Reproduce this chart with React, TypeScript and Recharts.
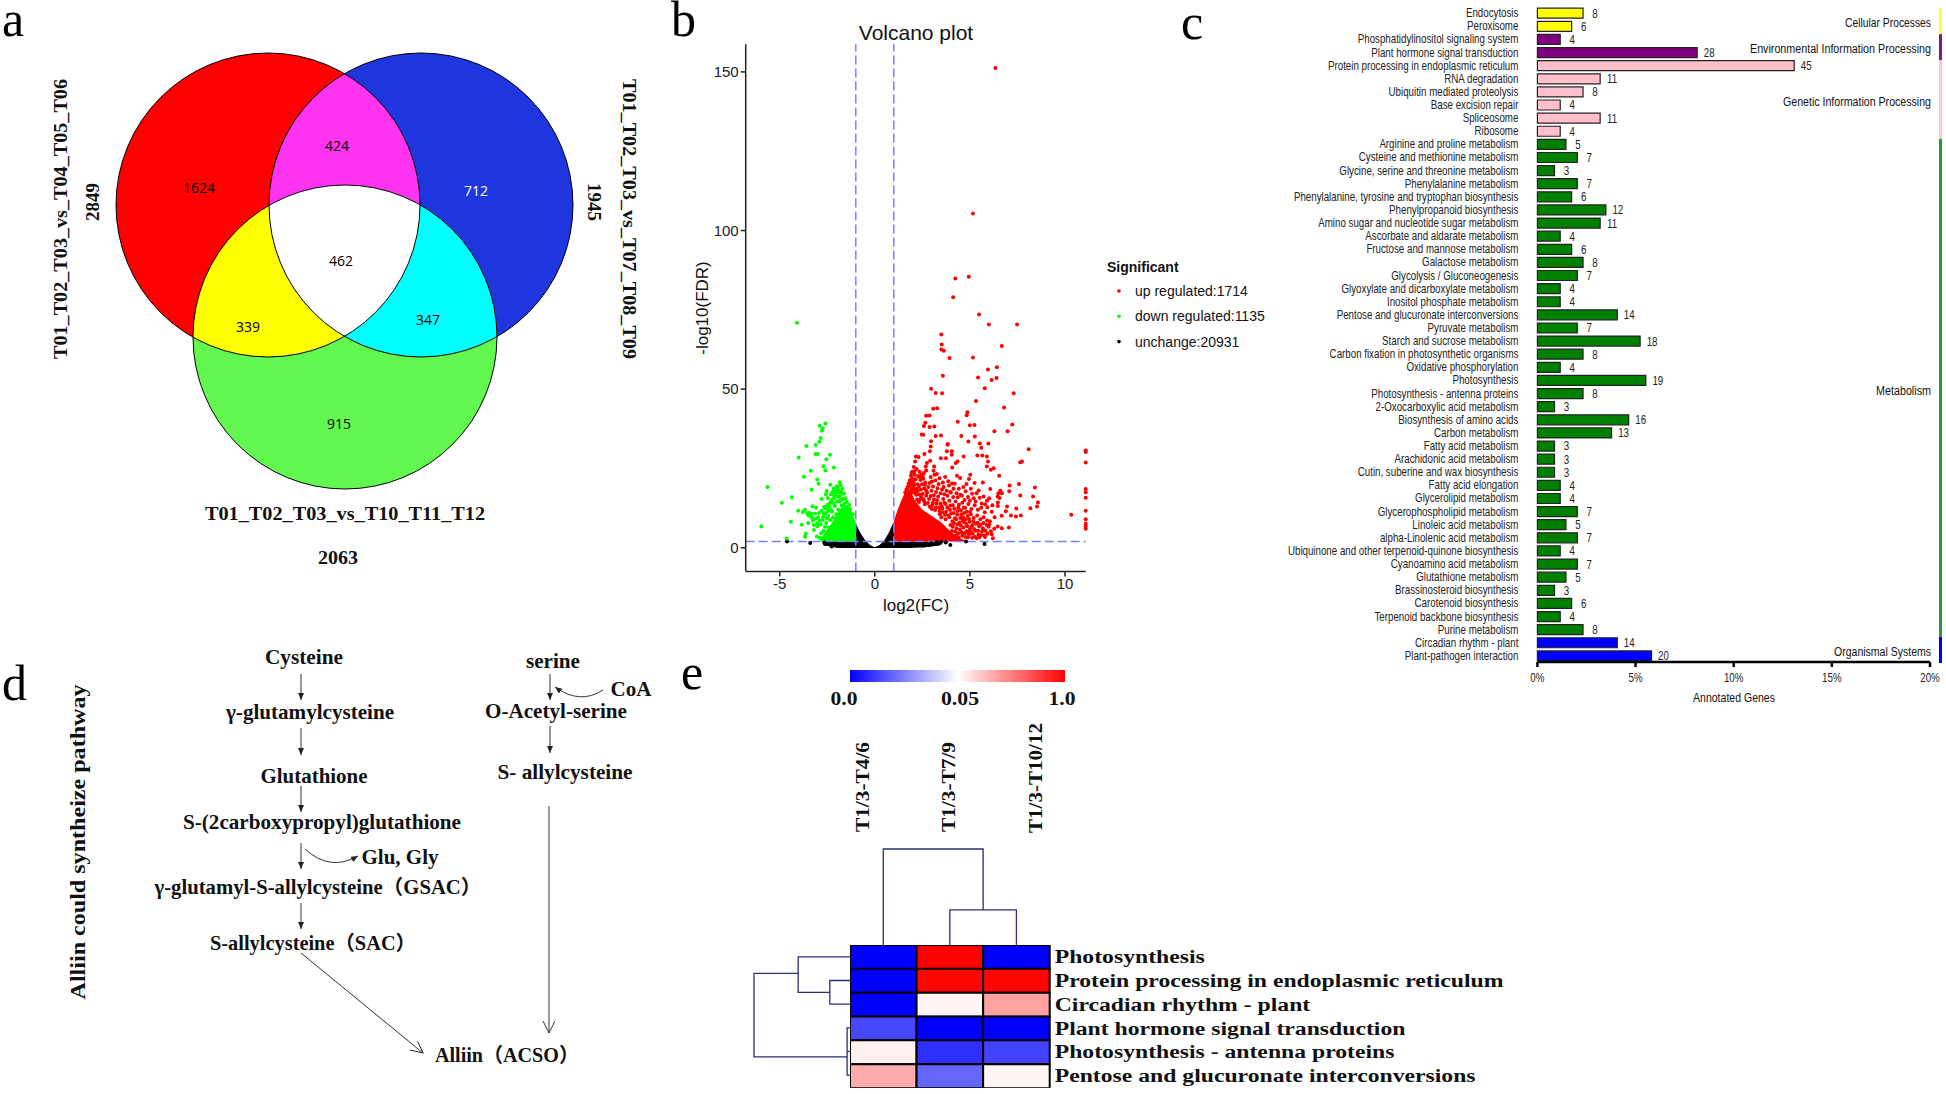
import React from 'react';
import {
  BarChart,
  Bar,
  Cell,
  ComposedChart,
  Area,
  Line,
  LineChart,
  LabelList,
  ReferenceLine,
  Scatter,
  ScatterChart,
  XAxis,
  YAxis,
} from 'recharts';

const SERIF = '"Liberation Serif", "Noto Sans CJK SC", serif';
const SANS = '"Liberation Sans", sans-serif';

// panel a
const vennSets = [
  { id: 'red', x: 268, y: 205, fill: '#ff0000' },
  { id: 'blue', x: 421, y: 205, fill: '#1f35de' },
  { id: 'green', x: 345, y: 337, fill: '#62f84f' },
];
const vennOverlaps = [
  { x: 421, y: 205, clips: ['red'], fill: '#ff33f0' },
  { x: 345, y: 337, clips: ['red'], fill: '#ffff00' },
  { x: 345, y: 337, clips: ['blue'], fill: '#00ffff' },
  { x: 345, y: 337, clips: ['red', 'blue'], fill: '#ffffff' },
];
const vennCounts = [
  { x: 199, y: 187, count: 1624 },
  { x: 337, y: 145, count: 424 },
  { x: 476, y: 190, count: 712, light: true },
  { x: 341, y: 260, count: 462 },
  { x: 248, y: 326, count: 339 },
  { x: 428, y: 319, count: 347 },
  { x: 339, y: 423, count: 915 },
];

// panel b
const volcanoUp = [
  [6.34, 151.2], [5.16, 105.4], [4.23, 84.9], [4.94, 85.4], [4.12, 79], [5.48, 73.5], [6, 70.4], [7.48, 70.4],
  [3.5, 67.2], [3.52, 64.1], [3.5, 62.5], [3.63, 62.1], [6.68, 63.6], [3.93, 59.8], [5.16, 60], [5.95, 56.2],
  [6.42, 56.9], [3.58, 54.2], [5.43, 53.7], [6.14, 52.9], [6.4, 53.5], [5.78, 50.3], [2.96, 50.1], [3.2, 48.8],
  [3.54, 48.7], [7.3, 48.7], [5.32, 46.3], [6.8, 44.2], [3.07, 43.8], [3.28, 44], [4.87, 42.7], [4.83, 41.8],
  [2.7, 41.6], [2.88, 41.7], [4.36, 39.7], [2.66, 39.4], [2.58, 38.4], [5, 38.6], [5.24, 38.7], [7.23, 38.9],
  [2.88, 38.1], [3.13, 38.2], [6.29, 36.7], [6.98, 36.7], [2.47, 35.7], [2.55, 35.6], [3.2, 35.2], [3.48, 35.4],
  [4.55, 35.2], [5.26, 35.1], [2.96, 33.6], [4.92, 33.5], [5.52, 32.9], [5.97, 32.9], [3.82, 32.5], [2.94, 31.9],
  [5.6, 31.5], [8.09, 31.1], [11.09, 30.7], [11.09, 30.2], [11.09, 26.9], [11.09, 18.5], [11.09, 17.5], [11.09, 15.8],
  [11.09, 11.7], [11.09, 9], [11.09, 7.6], [11.09, 6.8], [11.09, 6], [10.33, 10.4], [7.74, 27.2], [7.65, 27],
  [2.9, 30.4], [3.79, 30.4], [4.05, 30.4], [4.05, 29.3], [3.84, 32.7], [2.16, 28.8], [2.3, 28.6], [2.61, 29.6],
  [2.12, 27.2], [2.74, 26.7], [2.91, 27.4], [2.68, 25.6], [2.7, 24.4], [3.12, 25.6], [3.09, 24.3], [3.26, 23.3],
  [3.14, 23], [3.47, 28.2], [3.74, 28.2], [4.35, 27.2], [4.26, 26.7], [4.07, 25.3], [4.67, 28.8], [4.32, 22.7],
  [4.49, 22], [5.02, 23], [4.95, 21.7], [5.25, 20.4], [5.68, 20.6], [5.39, 29.1], [5.65, 29.1], [5.89, 28.8],
  [5.95, 27.2], [5.89, 25.6], [6.1, 24.6], [6.25, 25.1], [6.54, 22.7], [6.07, 18.5], [7.09, 19.6], [7.58, 20.1],
  [8.42, 19], [6.6, 18], [6.5, 17.2], [6.68, 17.2], [6.46, 16.2], [6.56, 15.7], [6.47, 14.3], [6.47, 13.2],
  [7.07, 17.8], [7.65, 16.5], [6.95, 13], [6.89, 11.5], [6.67, 10.1], [7.16, 10.2], [7.42, 9.9], [7.68, 10.2],
  [7.44, 12.4], [8.18, 12.5], [8.53, 13], [8.58, 14.3], [8.32, 16.2], [7.05, 6.4], [6.68, 6.2], [6.46, 6.7],
  [6.1, 5.2], [6.21, 3], [5.6, 4], [5.68, 6.2], [2.05, 25.5], [2.2, 24.8], [2.35, 24], [1.98, 24], [2.1, 23],
  [2.28, 22.6], [2.45, 23], [1.95, 22], [2.15, 21.6], [2.4, 21.4], [2.55, 21.8], [1.88, 20.6], [2.05, 20.4],
  [2.25, 20], [2.48, 20], [2.65, 20.6], [1.82, 19.2], [2.02, 18.8], [2.2, 18.6], [2.42, 18.4], [2.6, 18.8],
  [2.82, 19.2], [1.75, 17.8], [1.95, 17.4], [2.12, 17.2], [2.34, 16.8], [2.52, 17], [2.75, 17.4], [2.98, 18],
  [3.1, 16.6], [3.3, 18.8], [3.46, 17.2], [3.62, 19.2], [3.78, 18], [3.9, 19.6], [3.82, 16.4], [4, 17.4],
  [4.12, 16], [4.3, 17.2], [4.42, 18.6], [4.58, 16.4], [4.78, 17.8], [4.9, 16], [5.05, 18.6], [5.2, 15.6],
  [5.35, 17.2], [5.52, 15.8], [5.72, 16.2], [5.9, 14.8], [2.4, 15.4], [2.6, 14.6], [2.85, 15.4], [3.05, 14.2],
  [3.28, 15], [3.45, 14], [3.6, 15.4], [3.72, 13.8], [3.92, 14.8], [4.1, 13.4], [4.25, 14.6], [4.42, 13.6],
  [4.6, 14.2], [4.75, 12.6], [4.92, 13.8], [5.08, 12.2], [5.25, 13.4], [5.42, 12], [5.6, 12.6], [5.78, 11.2],
  [5.92, 12.8], [6.15, 11.4], [6.3, 9.6], [3, 12.2], [3.2, 12.6], [3.4, 11.6], [3.55, 12.4], [3.75, 11.4],
  [3.95, 12], [4.15, 11], [4.35, 11.6], [4.55, 10.6], [4.7, 11], [4.88, 10], [5.05, 10.6], [5.2, 9.4],
  [5.38, 10.2], [5.55, 9], [5.72, 9.6], [5.9, 8.6], [6.05, 8.4], [3.5, 9.6], [3.72, 9], [3.92, 9.6], [4.08, 8.4],
  [4.28, 9], [4.45, 8], [4.62, 8.6], [4.8, 7.6], [4.98, 8.2], [5.14, 7.2], [5.32, 7.6], [5.48, 6.8], [5.82, 5.4],
  [5.98, 6.6], [6.28, 6], [4.1, 6.6], [4.3, 6.2], [4.48, 5.8], [4.66, 6.4], [4.82, 5.2], [5, 5.8], [5.15, 4.4],
  [5.3, 5.4], [5.45, 4.2], [4.38, 4.6], [4.6, 3.8], [4.78, 3.4], [4.95, 4.2], [5.12, 3.2], [5.35, 3], [5.8, 3.4],
  [2.22, 15.2], [2.32, 14.4], [2.44, 16.1], [2.56, 15.3], [2.63, 13.7], [2.71, 16.4], [2.79, 14.1], [2.88, 12.9],
  [2.94, 16.3], [3.02, 13.4], [3.11, 15.2], [3.17, 11.9], [3.24, 13.9], [3.33, 16.2], [3.38, 12.7], [3.42, 10.6],
  [3.51, 13.1], [3.58, 11.2], [3.66, 14.2], [3.69, 10.4], [3.81, 12.7], [3.87, 10.2], [3.97, 13.3], [4.02, 10.9],
  [4.18, 12.3], [4.21, 9.3], [4.33, 10.4], [4.39, 12.7], [4.5, 9.4], [4.52, 11.8], [4.64, 9.6], [4.68, 12.6],
  [4.76, 8.9], [4.84, 11.4], [4.95, 9.1], [5.01, 11.3], [3.98, 7.2], [4.05, 5.3], [4.16, 7.7], [4.22, 5.1],
  [4.26, 3.8], [4.34, 7.4], [4.41, 3.3], [4.52, 7], [4.56, 4.9], [4.68, 8.1], [4.72, 4.6], [4.86, 6.8],
  [4.9, 3.3], [4.92, 5], [5.06, 6.6], [5.08, 4.9], [5.18, 8.4], [5.22, 5.9], [5.27, 3.5], [5.41, 7.9],
  [5.43, 5.4], [5.5, 3.3], [5.56, 7.3], [5.64, 5.2], [5.72, 7.8], [5.76, 3.9], [5.88, 7.2], [5.92, 4.4],
  [6.02, 7.4], [6.15, 4.3], [1.6, 17.4], [1.66, 18.3], [1.72, 19.2], [1.78, 20.3], [1.84, 21.3], [1.9, 22.8],
  [1.94, 23.7], [1.88, 19.4], [1.96, 20.1], [2.02, 21.4], [2.08, 24.1], [1.92, 18.2], [2.06, 19.7], [2.12, 18],
  [2.18, 16.7], [2.26, 17.9], [2.32, 19.3], [2.38, 22.2], [2.52, 22.7], [2.58, 23.6], [2.64, 19.9], [2.7, 18.1],
  [2.88, 20.4], [2.94, 22.3], [3, 20.9], [3.06, 19.3], [3.18, 21.2], [3.22, 17.6], [3.36, 20.1], [3.4, 21.9],
  [3.54, 18.4], [3.58, 20.6], [3.66, 16.9], [3.7, 22.3], [3.86, 21], [3.96, 17.6], [4.06, 20.3], [4.14, 18.6],
  [4.2, 20.2], [4.36, 15.9], [4.5, 16.7], [4.66, 19.2], [4.72, 15.1], [4.82, 20.1], [5, 14.8], [5.12, 17],
  [5.3, 14.6], [5.46, 18.1], [5.62, 14], [5.8, 13.7], [6.02, 15.6], [6.18, 13.4],
];
const volcanoDown = [
  [-4.1, 70.9], [-2.6, 39.2], [-2.9, 38.5], [-2.75, 37.7], [-2.79, 36.9], [-2.85, 34.6], [-2.92, 33.4], [-3.11, 32.4],
  [-3.6, 32.1], [-3.11, 29.6], [-3, 29.6], [-2.36, 29.3], [-2.55, 27.9], [-4, 28.5], [-2.7, 25.7], [-2.6, 24.4],
  [-2.15, 25.3], [-3.37, 24.3], [-3.73, 22.4], [-3.03, 21.5], [-2.96, 20.2], [-5.64, 19.2], [-2.34, 19.9], [-1.85, 20.7],
  [-3.33, 18.3], [-2.53, 17.9], [-4.36, 15.9], [-4.89, 14.2], [-2.57, 16.9], [-2.16, 18.7], [-1.95, 19.1], [-1.8, 19.7],
  [-2.05, 17.4], [-2.31, 16.9], [-2.48, 15.7], [-2.8, 15.4], [-3.09, 12.6], [-3.28, 13.1], [-3.34, 10.7], [-4.03, 11.7],
  [-3.78, 11.3], [-3.67, 12], [-3.52, 10.4], [-3.41, 10.1], [-4.42, 8.2], [-3.84, 7.3], [-5.97, 6.7], [-4.64, 2.9],
  [-3.67, 3.5], [-3.63, 4.5], [-3.55, 10.9], [-3.45, 11], [-3.25, 8.6], [-3.1, 9.2], [-2.98, 9.6], [-3.02, 6.8],
  [-2.85, 7.4], [-2.75, 8.8], [-2.68, 10.8], [-2.6, 12.4], [-2.45, 11.6], [-2.4, 13.4], [-2.3, 14.6], [-2.15, 15.6],
  [-2, 16.2], [-1.9, 17.4], [-1.72, 17], [-1.65, 15.4], [-1.85, 14.6], [-2.1, 13.2], [-2.25, 11.4], [-2.52, 9.2],
  [-2.62, 6.6], [-2.7, 5.4], [-2.82, 4.6], [-2.9, 3.2], [-2.75, 2.8], [-3.05, 3.6], [-2.55, 7.8], [-2.35, 8.8],
  [-2.2, 9.6], [-2.02, 10.6], [-1.92, 12], [-1.75, 13.4], [-1.6, 13.8], [-1.48, 14.4], [-1.35, 13.6], [-2.12, 7.8],
  [-2.42, 6.4], [-3.5, 7.8], [-3.2, 5.6], [-1.6, 12.4], [-1.3, 12.2], [-1.15, 10.6],
  [-1.55, 15.6], [-1.62, 17.1], [-1.7, 18.6], [-1.78, 17.7], [-1.85, 16.2], [-1.92, 18.2], [-2, 19.4], [-2.08, 18.1],
  [-2.14, 16.4], [-2.22, 17.6], [-2.26, 15.1], [-2.35, 14.2], [-2.42, 12.4], [-2.5, 13.5], [-2.58, 11], [-2.66, 12.9],
  [-2.72, 9.8], [-2.8, 11.7], [-2.88, 8.6], [-2.94, 11], [-3.02, 7.7], [-3.14, 10.8], [-3.2, 7.2], [-3.3, 9.4],
  [-2.45, 10], [-2.3, 12], [-2.15, 14], [-2, 14.6], [-1.85, 15], [-1.72, 15.2],
];
const volcanoFlat = [
  [-4.62, 2], [-3.4, 1.5], [-2.66, 1.7], [-2.53, 1.2], [-2.27, 0.4], [-2.62, 1.2], [-1.95, 0.6], [3.73, 1.7],
  [3.97, 0.9], [4.8, 2], [5.77, 1.2], [2.98, 1.4], [2.85, 0.9], [3.25, 1.8], [3.3, 1.2], [2.6, 0.7], [3.5, 1.9],
];
const massX = [-2.9, -2.6, -2.3, -2, -1.8, -1.6, -1.4, -1.2, -1.01, -0.99, -0.75, -0.5, -0.25, 0, 0.25, 0.5, 0.75, 0.99, 1.01, 1.2, 1.4, 1.7, 1.95, 2.1, 2.5, 3, 3.5, 4, 4.5, 4.8];
const massFlatTop = [null, 1.8, 2, 2, 2, 2, 2, 2, 2, 7.5, 4.6, 2.3, 0.9, 0.2, 0.9, 2.3, 4.9, 8.2, 2, 2, 2, 2, 2, 2, 2, 2, 2, null, null, null];
const massFlatLow = [null, 0.8, 0.3, 0, -0.1, -0.1, -0.1, -0.1, -0.1, -0.1, -0.1, -0.1, -0.1, -0.1, -0.1, -0.1, -0.1, -0.1, -0.1, -0.1, -0.1, -0.1, -0.1, 0, 0.1, 0.4, 0.9, null, null, null];
const massDownTop = [2.5, 5, 7.5, 10.5, 12.5, 13.5, 13.5, 11, 8, null, null, null, null, null, null, null, null, null, null, null, null, null, null, null, null, null, null, null, null, null];
const massUpTop = [null, null, null, null, null, null, null, null, null, null, null, null, null, null, null, null, null, null, 8.5, 12, 15, 19, 17, 15, 12, 10, 8, 5, 3, 2.2];
const volcanoTicksX = [-5, 0, 5, 10];
const volcanoTicksY = [0, 50, 100, 150];
const volcanoLegend = ['up regulated:1714', 'down regulated:1135', 'unchange:20931'];

// panel c
const pathways = [
  'Endocytosis', 'Peroxisome', 'Phosphatidylinositol signaling system', 'Plant hormone signal transduction',
  'Protein processing in endoplasmic reticulum', 'RNA degradation', 'Ubiquitin mediated proteolysis', 'Base excision repair',
  'Spliceosome', 'Ribosome', 'Arginine and proline metabolism', 'Cysteine and methionine metabolism',
  'Glycine, serine and threonine metabolism', 'Phenylalanine metabolism', 'Phenylalanine, tyrosine and tryptophan biosynthesis',
  'Phenylpropanoid biosynthesis', 'Amino sugar and nucleotide sugar metabolism', 'Ascorbate and aldarate metabolism',
  'Fructose and mannose metabolism', 'Galactose metabolism', 'Glycolysis / Gluconeogenesis', 'Glyoxylate and dicarboxylate metabolism',
  'Inositol phosphate metabolism', 'Pentose and glucuronate interconversions', 'Pyruvate metabolism', 'Starch and sucrose metabolism',
  'Carbon fixation in photosynthetic organisms', 'Oxidative phosphorylation', 'Photosynthesis', 'Photosynthesis - antenna proteins',
  '2-Oxocarboxylic acid metabolism', 'Biosynthesis of amino acids', 'Carbon metabolism', 'Fatty acid metabolism',
  'Arachidonic acid metabolism', 'Cutin, suberine and wax biosynthesis', 'Fatty acid elongation', 'Glycerolipid metabolism',
  'Glycerophospholipid metabolism', 'Linoleic acid metabolism', 'alpha-Linolenic acid metabolism', 'Ubiquinone and other terpenoid-quinone biosynthesis',
  'Cyanoamino acid metabolism', 'Glutathione metabolism', 'Brassinosteroid biosynthesis', 'Carotenoid biosynthesis',
  'Terpenoid backbone biosynthesis', 'Purine metabolism', 'Circadian rhythm - plant', 'Plant-pathogen interaction',
];
const geneCounts = [8, 6, 4, 28, 45, 11, 8, 4, 11, 4, 5, 7, 3, 7, 6, 12, 11, 4, 6, 8, 7, 4, 4, 14, 7, 18, 8, 4, 19, 8, 3, 16, 13, 3, 3, 3, 4, 4, 7, 5, 7, 4, 7, 5, 3, 6, 4, 8, 14, 20];
const annotatedTotal = 344;
const groupNames = ['Cellular Processes', 'Environmental Information Processing', 'Genetic Information Processing', 'Metabolism', 'Organismal Systems'];
const groupSizes = [2, 2, 6, 38, 2];
const groupColors = ['#ffff00', '#800080', '#ffc0cb', '#008000', '#0000ff'];
const stripColors = ['#ffff33', '#7a1a8a', '#ffc8d4', '#2a9a3a', '#0000ff'];
const percentTicks = [0, 5, 10, 15, 20];

// panel e
const heatRows = ['Photosynthesis', 'Protein processing in endoplasmic reticulum', 'Circadian rhythm - plant', 'Plant hormone signal transduction', 'Photosynthesis - antenna proteins', 'Pentose and glucuronate interconversions'];
const heatColumns = ['T1/3-T4/6', 'T1/3-T7/9', 'T1/3-T10/12'];
const heatT4 = [0, 0, 0, 0.014, 0.106, 0.36];
const heatT7 = [1, 0.98, 0.087, 0, 0.009, 0.02];
const heatT10 = [0, 0.98, 0.4, 0, 0.013, 0.087];
const topTree = [
  [[1.5, 0], [1.5, 0.365], [2.5, 0.365], [2.5, 0]],
  [[0.5, 0], [0.5, 1], [2, 1], [2, 0.365]],
];
const leftTree = [
  [[0, 1.5], [0.21, 1.5], [0.21, 2.5], [0, 2.5]],
  [[0, 0.5], [0.54, 0.5], [0.54, 2], [0.21, 2]],
  [[0, 3.5], [0.03, 3.5], [0.03, 5.5], [0, 5.5]],
  [[0, 4.5], [0.03, 4.5]],
  [[0.54, 1.2], [1, 1.2], [1, 4.73], [0.03, 4.73]],
];

const toPoints = (list: number[][]) => list.map(([x, y]) => ({ x, y }));
const massTable = massX.map((x, i) => ({
  x,
  flat: massFlatTop[i] === null ? null : [massFlatLow[i], massFlatTop[i]],
  down: massDownTop[i] === null ? null : [2, massDownTop[i]],
  up: massUpTop[i] === null ? null : [2, massUpTop[i]],
}));
const pathwayTable = pathways.map((name, i) => ({ name, count: geneCounts[i], percent: (geneCounts[i] / annotatedTotal) * 100 }));
const stripTable = [{ name: 'groups', ...Object.fromEntries(groupNames.map((g, i) => [g, groupSizes[i]])) }];
const heatTable = heatRows.map((name) => ({ name, a: 1, b: 1, c: 1 }));

const pathwayColor = (i: number) => {
  let seen = 0;
  for (let g = 0; g < groupSizes.length; g++) {
    seen += groupSizes[g];
    if (i < seen) return groupColors[g];
  }
  return '#000';
};

// 0 is blue, 0.05 is white, 1 is red
const heatColor = (v: number) => {
  if (v < 0.05) {
    const c = Math.round((v / 0.05) * 255);
    return `rgb(${c},${c},255)`;
  }
  const c = Math.round((1 - (v - 0.05) / 0.95) * 255);
  return `rgb(255,${c},${c})`;
};

const dot = (fill: string) => (p: any) => <circle cx={p.cx} cy={p.cy} r={2} fill={fill} />;

// the font of panel c is condensed, none installed is, so squeeze it
const Squeezed = ({ x, y, anchor = 'end', children }: any) => (
  <text
    x={x}
    y={y}
    textAnchor={anchor}
    dominantBaseline="central"
    fontSize={12.5}
    fontFamily={SANS}
    fill="#222"
    transform={`translate(${x} 0) scale(0.78 1) translate(${-x} 0)`}
  >
    {children}
  </text>
);

const VENN_R = 152;
const VennChart = () => (
  <ScatterChart width={660} height={560} margin={{ top: 0, right: 0, bottom: 0, left: 0 }}>
    <XAxis type="number" dataKey="x" hide domain={[0, 660]} />
    <YAxis type="number" hide domain={[0, 560]} reversed />
    <Scatter
      data={vennSets}
      dataKey="y"
      isAnimationActive={false}
      shape={(p: any) => (
        <g>
          <clipPath id={'venn-' + p.payload.id}>
            <circle cx={p.cx} cy={p.cy} r={VENN_R} />
          </clipPath>
          <circle cx={p.cx} cy={p.cy} r={VENN_R} fill={p.payload.fill} />
        </g>
      )}
    />
    <Scatter
      data={vennOverlaps}
      dataKey="y"
      isAnimationActive={false}
      shape={(p: any) =>
        p.payload.clips.reduce(
          (inner: any, id: string) => <g clipPath={`url(#venn-${id})`}>{inner}</g>,
          <circle cx={p.cx} cy={p.cy} r={VENN_R} fill={p.payload.fill} />
        )
      }
    />
    <Scatter
      data={vennSets}
      dataKey="y"
      isAnimationActive={false}
      shape={(p: any) => <circle cx={p.cx} cy={p.cy} r={VENN_R} fill="none" stroke="#000" strokeWidth={1} />}
    />
    <Scatter
      data={vennCounts}
      dataKey="y"
      isAnimationActive={false}
      shape={(p: any) => (
        <text x={p.cx} y={p.cy} textAnchor="middle" dominantBaseline="central" fontSize={14} fontFamily='"Open Sans", sans-serif' fill={p.payload.light ? '#fff' : '#000'}>
          {p.payload.count}
        </text>
      )}
    />
  </ScatterChart>
);

const VolcanoChart = () => (
  <ComposedChart width={660} height={620} data={massTable} margin={{ top: 44.3, right: 234.3, bottom: 0, left: 0 }}>
    <XAxis
      type="number"
      dataKey="x"
      domain={[-6.79, 11.09]}
      ticks={volcanoTicksX}
      interval={0}
      height={48.5}
      stroke="#222"
      strokeWidth={1.5}
      tickSize={5}
      tick={{ fontSize: 15, fill: '#222', fontFamily: SANS }}
    />
    <YAxis
      type="number"
      domain={[-7.47, 158.7]}
      ticks={volcanoTicksY}
      interval={0}
      width={85.7}
      stroke="#222"
      strokeWidth={1.5}
      tickSize={5}
      tick={{ fontSize: 15, fill: '#222', fontFamily: SANS }}
    />
    <Area dataKey="flat" stroke="none" fill="#000" fillOpacity={1} dot={false} isAnimationActive={false} />
    <Area dataKey="down" stroke="none" fill="#00ff00" fillOpacity={1} dot={false} isAnimationActive={false} />
    <Area dataKey="up" stroke="none" fill="#ff0000" fillOpacity={1} dot={false} isAnimationActive={false} />
    <Scatter data={toPoints(volcanoFlat)} dataKey="y" isAnimationActive={false} shape={dot('#000')} />
    <Scatter data={toPoints(volcanoDown)} dataKey="y" isAnimationActive={false} shape={dot('#00ff00')} />
    <Scatter data={toPoints(volcanoUp)} dataKey="y" isAnimationActive={false} shape={dot('#ff0000')} />
    <ReferenceLine x={-1} stroke="#7c7cff" strokeWidth={1.5} strokeDasharray="9 4" />
    <ReferenceLine x={1} stroke="#7c7cff" strokeWidth={1.5} strokeDasharray="9 4" />
    <ReferenceLine y={2} stroke="#7c7cff" strokeWidth={1.5} strokeDasharray="9 4" />
  </ComposedChart>
);

const PathwayTick = (p: any) => (
  <Squeezed x={p.x} y={p.y}>{p.payload.value}</Squeezed>
);

const PercentTick = (p: any) => (
  <Squeezed x={p.x} y={p.y + 9} anchor="middle">{p.payload.value}%</Squeezed>
);

const CountLabel = (p: any) => (
  <Squeezed x={p.x + p.width + 12} y={p.y + p.height / 2} anchor="middle">{p.value}</Squeezed>
);

const PathwayChart = () => (
  <BarChart
    layout="vertical"
    width={676}
    height={700}
    data={pathwayTable}
    margin={{ top: 6.2, right: 16, bottom: 0, left: 0 }}
    barSize={10}
  >
    <XAxis
      type="number"
      domain={[0, 20]}
      ticks={percentTicks}
      interval={0}
      height={38}
      stroke="#000"
      strokeWidth={2.5}
      tickSize={5}
      tick={<PercentTick />}
    />
    <YAxis type="category" dataKey="name" interval={0} width={267.4} axisLine={false} tickLine={false} tickMargin={13} tick={<PathwayTick />} />
    <Bar dataKey="percent" stroke="#222" strokeWidth={1.2} isAnimationActive={false}>
      {pathwayTable.map((_, i) => (
        <Cell key={i} fill={pathwayColor(i)} />
      ))}
      <LabelList dataKey="count" content={<CountLabel />} />
    </Bar>
  </BarChart>
);

const GroupStrip = () => (
  <BarChart width={3} height={655} data={stripTable} margin={{ top: 0, right: 0, bottom: 0, left: 0 }} barCategoryGap={0}>
    <XAxis type="category" dataKey="name" hide />
    <YAxis type="number" hide domain={[0, 50]} reversed />
    {groupNames.map((g, i) => (
      <Bar key={g} dataKey={g} stackId="g" fill={stripColors[i]} isAnimationActive={false} />
    ))}
  </BarChart>
);

const HeatTick = (p: any) => (
  <text x={p.x} y={p.y} dominantBaseline="central" fontSize={19} fontWeight="bold" fontFamily={SERIF} fill="#111" transform={`translate(${p.x} 0) scale(1.247 1) translate(${-p.x} 0)`}>
    {p.payload.value}
  </text>
);

const HeatChart = () => (
  <BarChart layout="vertical" width={700} height={143} data={heatTable} margin={{ top: 0, right: 0, bottom: 0, left: 0 }} barCategoryGap={0}>
    <XAxis type="number" hide domain={[0, 3]} />
    <YAxis type="category" dataKey="name" orientation="right" width={500.3} interval={0} axisLine={false} tickLine={false} tickMargin={-1} tick={<HeatTick />} />
    {[heatT4, heatT7, heatT10].map((col, c) => (
      <Bar key={c} dataKey={['a', 'b', 'c'][c]} stackId="h" stroke="#000" strokeWidth={2} isAnimationActive={false}>
        {col.map((v, i) => (
          <Cell key={i} fill={heatColor(v)} />
        ))}
      </Bar>
    ))}
  </BarChart>
);

const Dendrogram = ({ links, w, h, xDomain, yDomain, xReversed, yReversed }: any) => (
  <LineChart width={w} height={h} margin={{ top: 2, right: 2, bottom: 2, left: 2 }}>
    <XAxis type="number" dataKey="x" hide domain={xDomain} reversed={xReversed} />
    <YAxis type="number" hide domain={yDomain} reversed={yReversed} />
    {links.map((link: number[][], i: number) => (
      <Line key={i} data={toPoints(link)} dataKey="y" stroke="#2d2d78" strokeWidth={1.3} dot={false} isAnimationActive={false} />
    ))}
  </LineChart>
);

const T = ({ x, y, w, size = 18, family = SERIF, bold = true, rot, anchor = 'middle', fill = '#111', children }: any) => (
  <text
    x={x}
    y={y}
    textAnchor={anchor}
    dominantBaseline="central"
    fontSize={size}
    fontFamily={family}
    fontWeight={bold ? 'bold' : 'normal'}
    fill={fill}
    textLength={w}
    lengthAdjust={w ? 'spacingAndGlyphs' : undefined}
    transform={rot ? `rotate(${rot} ${x} ${y})` : undefined}
  >
    {children}
  </text>
);

const Letter = ({ x, y, children }: any) => (
  <text x={x} y={y} fontSize={50} fontFamily={SERIF} fill="#000">
    {children}
  </text>
);

const place = (left: number, top: number): React.CSSProperties => ({ position: 'absolute', left, top });

const Overlay = () => (
  <svg width={1946} height={1094} style={{ position: 'absolute', left: 0, top: 0, pointerEvents: 'none' }}>
    <defs>
      <marker id="solid" markerWidth="8" markerHeight="8" refX="7" refY="3" orient="auto" markerUnits="userSpaceOnUse">
        <path d="M0,0 L7,3 L0,6 Z" fill="#222" />
      </marker>
      <marker id="open" markerWidth="14" markerHeight="14" refX="12" refY="6" orient="auto" markerUnits="userSpaceOnUse">
        <path d="M0,0 L12,6 L0,12" fill="none" stroke="#333" strokeWidth={1} />
      </marker>
      <linearGradient id="bar-scale" x1="0" x2="1" y1="0" y2="0">
        <stop offset="0" stopColor="#0000ff" />
        <stop offset="0.5" stopColor="#ffffff" />
        <stop offset="1" stopColor="#ff0000" />
      </linearGradient>
    </defs>

    <Letter x={2} y={36}>a</Letter>
    <Letter x={671} y={36}>b</Letter>
    <Letter x={1181} y={39}>c</Letter>
    <Letter x={2} y={700}>d</Letter>
    <Letter x={681} y={689}>e</Letter>

    {/* a */}
    <T x={61} y={219} w={280} rot={-90}>T01_T02_T03_vs_T04_T05_T06</T>
    <T x={93} y={202} w={38} rot={-90}>2849</T>
    <T x={629} y={219} w={280} rot={90}>T01_T02_T03_vs_T07_T08_T09</T>
    <T x={594} y={202} w={38} rot={90}>1945</T>
    <T x={345} y={514} w={280}>T01_T02_T03_vs_T10_T11_T12</T>
    <T x={338} y={558} w={40}>2063</T>

    {/* b */}
    <T x={916} y={32} size={21} family={SANS} bold={false}>Volcano plot</T>
    <T x={916} y={605} size={17} family={SANS} bold={false}>log2(FC)</T>
    <T x={702} y={308} size={17} family={SANS} bold={false} rot={-90}>-log10(FDR)</T>
    <T x={1107} y={267} size={14} family={SANS} anchor="start">Significant</T>
    {volcanoLegend.map((label, i) => (
      <g key={label}>
        <circle cx={1119} cy={291 + i * 25.3} r={1.8} fill={['#ff0000', '#00ff00', '#000'][i]} />
        <T x={1135} y={291 + i * 25.3} size={14} family={SANS} bold={false} anchor="start">{label}</T>
      </g>
    ))}

    {/* c */}
    <T x={1931} y={23} w={86} size={12.5} family={SANS} bold={false} anchor="end">{groupNames[0]}</T>
    <T x={1931} y={49} w={181} size={12.5} family={SANS} bold={false} anchor="end">{groupNames[1]}</T>
    <T x={1931} y={102} w={148} size={12.5} family={SANS} bold={false} anchor="end">{groupNames[2]}</T>
    <T x={1931} y={391} w={55} size={12.5} family={SANS} bold={false} anchor="end">{groupNames[3]}</T>
    <T x={1931} y={652} w={97} size={12.5} family={SANS} bold={false} anchor="end">{groupNames[4]}</T>
    <T x={1734} y={698} w={82} size={12.5} family={SANS} bold={false}>Annotated Genes</T>

    {/* d */}
    <T x={78} y={842} w={315} size={20} rot={-90}>Alliin could syntheize pathway</T>
    <T x={304} y={657} w={78} size={20}>Cysteine</T>
    <T x={310} y={712} w={168} size={20}>γ-glutamylcysteine</T>
    <T x={314} y={776} w={107} size={20}>Glutathione</T>
    <T x={322} y={822} w={278} size={20}>S-(2carboxypropyl)glutathione</T>
    <T x={400} y={857} w={77} size={20}>Glu, Gly</T>
    <T x={318} y={887} w={327} size={20}>γ-glutamyl-S-allylcysteine（GSAC）</T>
    <T x={313} y={943} w={206} size={20}>S-allylcysteine（SAC）</T>
    <T x={507} y={1055} w={144} size={20}>Alliin（ACSO）</T>
    <T x={553} y={661} w={54} size={20}>serine</T>
    <T x={631} y={689} w={41} size={20}>CoA</T>
    <T x={556} y={711} w={142} size={20}>O-Acetyl-serine</T>
    <T x={565} y={772} w={135} size={20}>S- allylcysteine</T>
    <g stroke="#333" strokeWidth={1} fill="none" markerEnd="url(#solid)">
      <path d="M301,674 L301,700" />
      <path d="M301,728 L301,755" />
      <path d="M301,786 L301,812" />
      <path d="M301,843 L301,869" />
      <path d="M301,903 L301,929" />
      <path d="M550,674 L550,700" />
      <path d="M550,726 L550,753" />
      <path d="M603,690 Q580,705 555,687" />
      <path d="M305,849 Q330,872 358,856" />
    </g>
    <g stroke="#333" strokeWidth={1} fill="none" markerEnd="url(#open)">
      <path d="M301,953 L423,1053" />
      <path d="M549,806 L549,1033" />
    </g>

    {/* e */}
    <rect x={850} y={670} width={215} height={12} fill="url(#bar-scale)" />
    <T x={844} y={699} w={27}>0.0</T>
    <T x={960} y={699} w={38}>0.05</T>
    <T x={1062} y={699} w={27}>1.0</T>
    <T x={863} y={787} w={90} rot={-90}>{heatColumns[0]}</T>
    <T x={949} y={787} w={90} rot={-90}>{heatColumns[1]}</T>
    <T x={1036} y={778} w={110} rot={-90}>{heatColumns[2]}</T>
  </svg>
);

export default function App() {
  return (
    <div style={{ position: 'absolute', left: 0, top: 0, width: 1946, height: 1094, background: '#fff', overflow: 'hidden' }}>
      <div style={place(0, 0)}><VennChart /></div>
      <div style={place(660, 0)}><VolcanoChart /></div>
      <div style={place(1270, 0)}><PathwayChart /></div>
      <div style={place(1939, 8)}><GroupStrip /></div>
      <div style={place(850, 945)}><HeatChart /></div>
      <div style={place(848, 847)}>
        <Dendrogram links={topTree} w={203.7} h={100} xDomain={[0, 3]} yDomain={[0, 1]} />
      </div>
      <div style={place(752, 943)}>
        <Dendrogram links={leftTree} w={100} h={146} xDomain={[0, 1]} yDomain={[0, 6]} xReversed yReversed />
      </div>
      <Overlay />
    </div>
  );
}
